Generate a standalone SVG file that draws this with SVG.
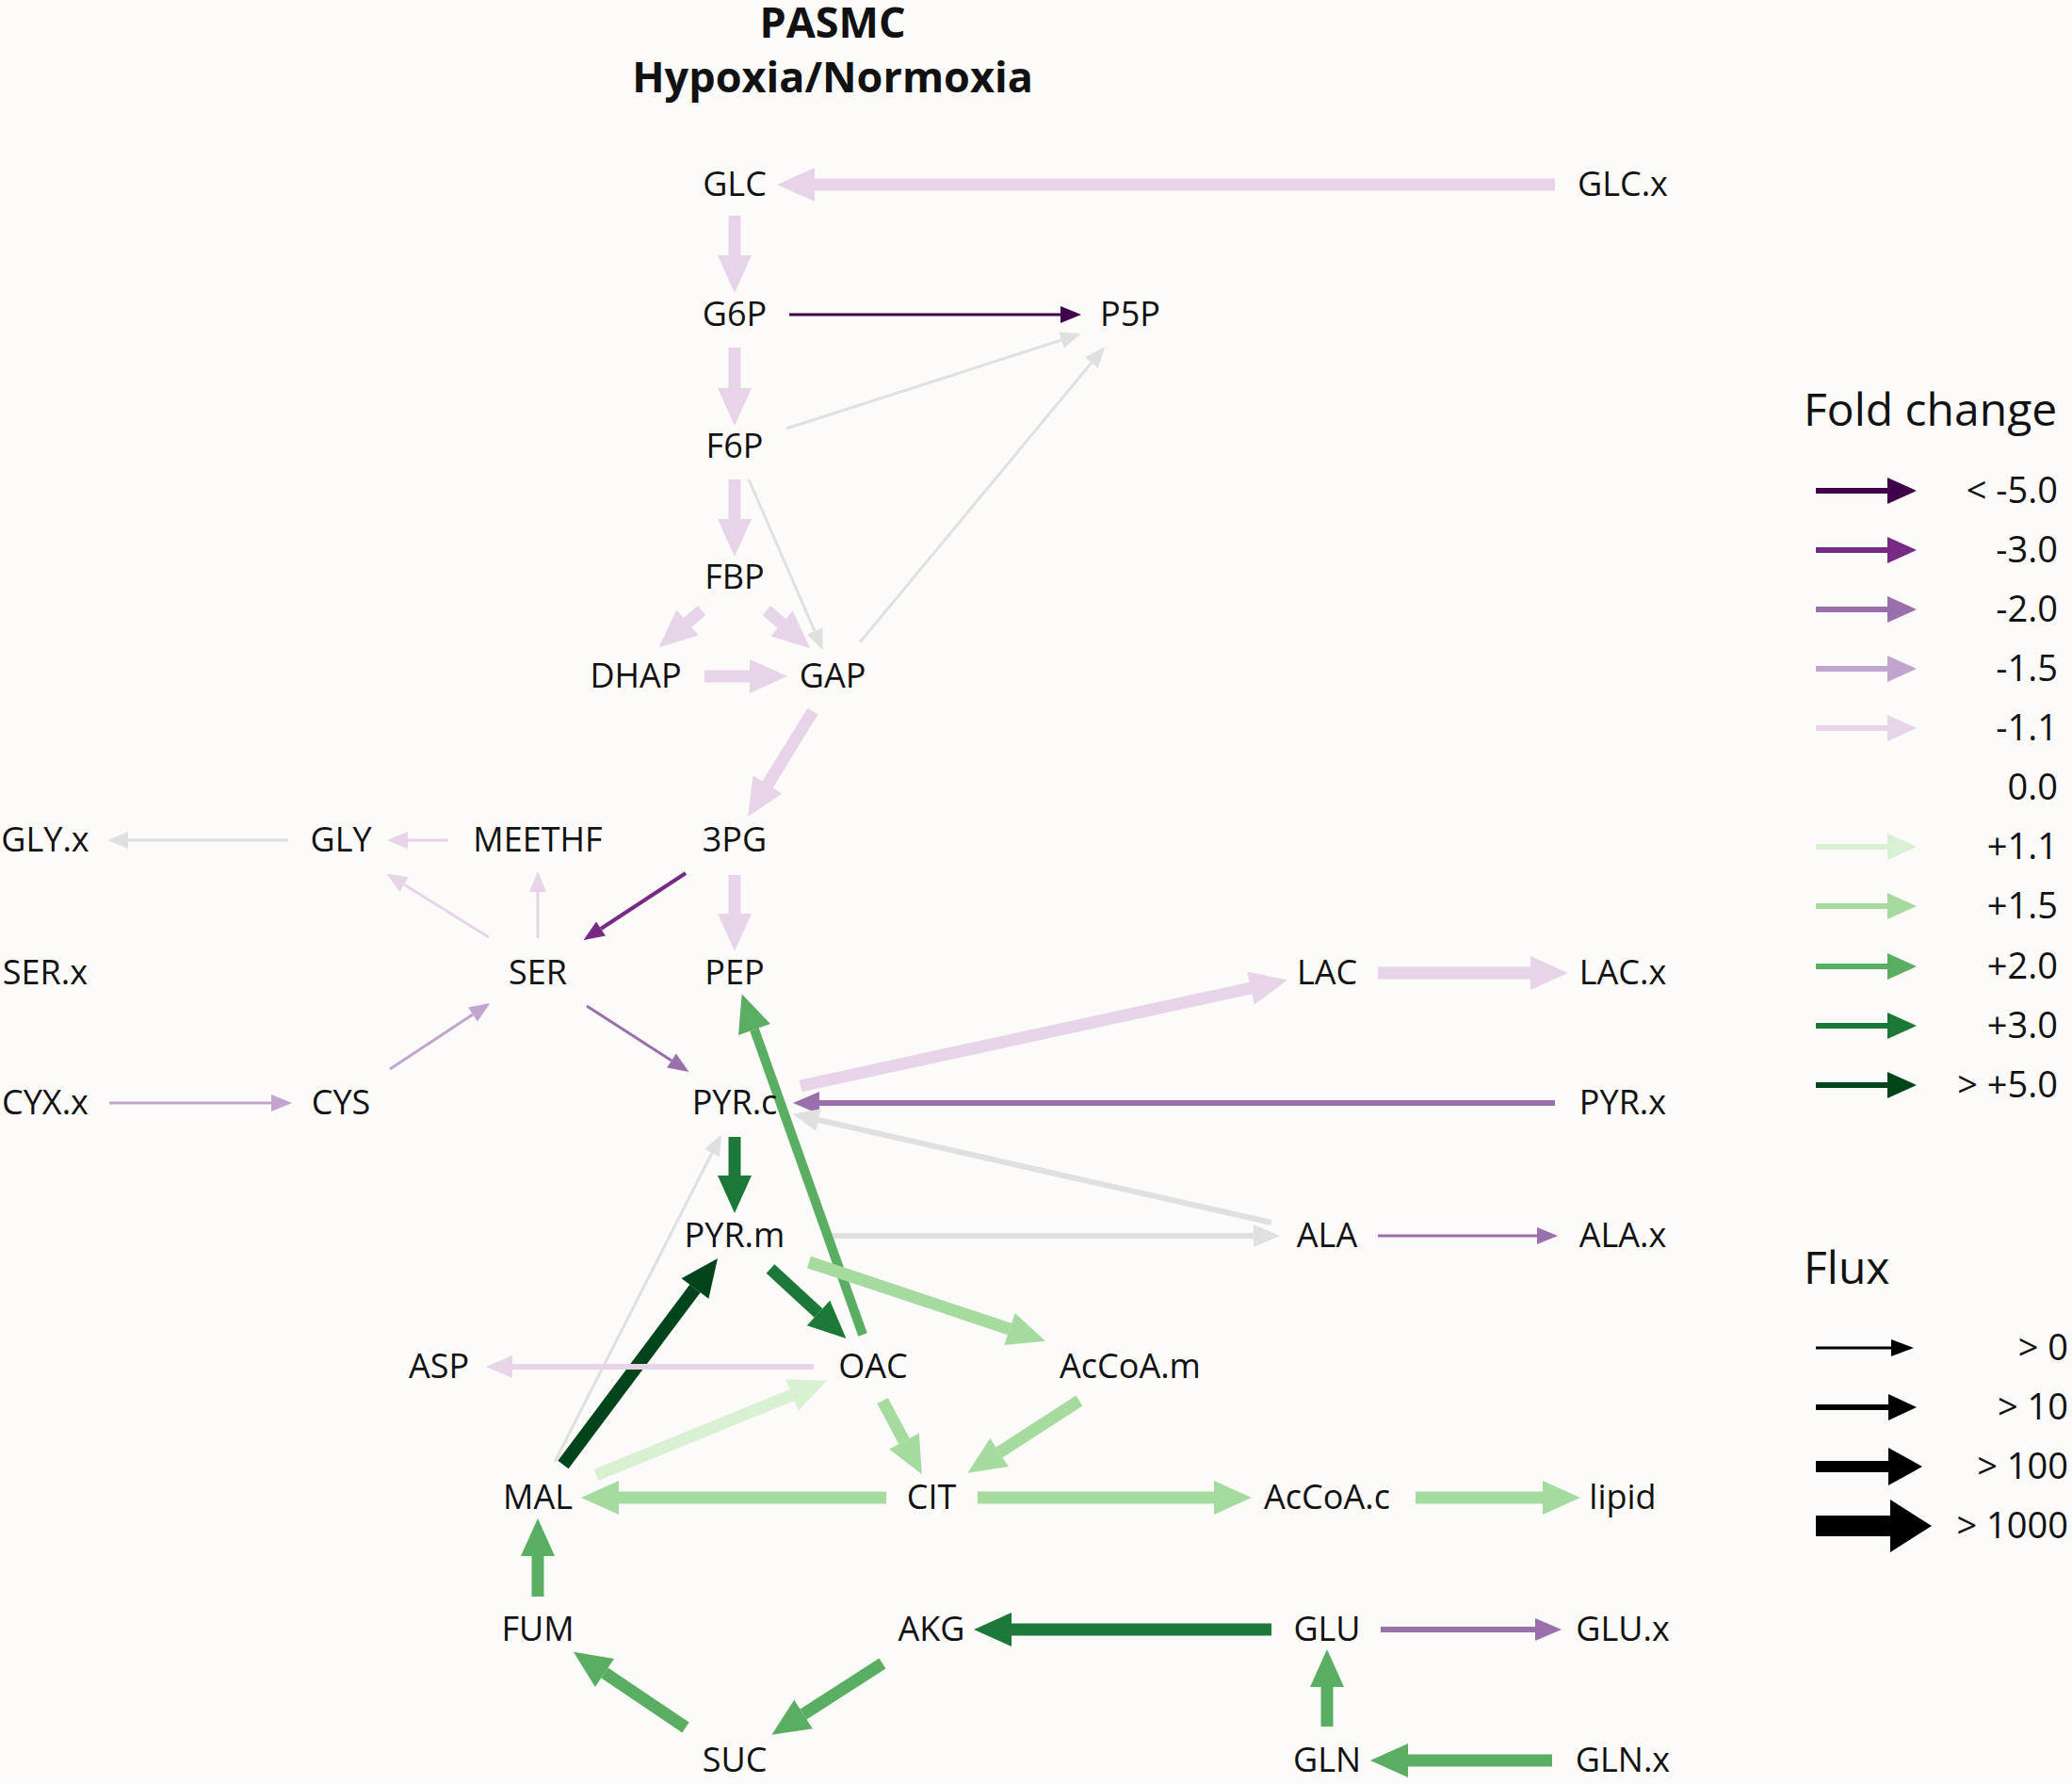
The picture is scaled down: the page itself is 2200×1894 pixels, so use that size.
<svg xmlns="http://www.w3.org/2000/svg" width="2200" height="1894" viewBox="0 0 2200 1894">
<style>
text{font-family:"Open Sans","Liberation Sans",sans-serif;font-size:36px;fill:#111;text-anchor:middle}
.ttl{font-weight:bold;font-size:45px}
.lt{font-size:38px;text-anchor:end}
.lh{font-size:48px;text-anchor:start}
line{fill:none;stroke-linecap:butt}
.t{stroke-width:3}.m{stroke-width:6}.b{stroke-width:13}
.p5{stroke:#40004b}.p3{stroke:#762a83}.p2{stroke:#9970ab}.p15{stroke:#c2a5cf}.p11{stroke:#e7d4e8}
.g0{stroke:#e0e0e0}.g11{stroke:#d9f0d3}.g15{stroke:#a6dba0}.g2{stroke:#5aae61}.g3{stroke:#1b7837}.g5{stroke:#00441b}.k{stroke:#000}
</style>
<defs>
<marker id="t-p5" markerUnits="userSpaceOnUse" markerWidth="22" markerHeight="18" refX="0" refY="9" orient="auto" overflow="visible"><path d="M0,0L22,9L0,18Z" fill="#40004b"/></marker>
<marker id="t-p3" markerUnits="userSpaceOnUse" markerWidth="22" markerHeight="18" refX="0" refY="9" orient="auto" overflow="visible"><path d="M0,0L22,9L0,18Z" fill="#762a83"/></marker>
<marker id="t-p2" markerUnits="userSpaceOnUse" markerWidth="22" markerHeight="18" refX="0" refY="9" orient="auto" overflow="visible"><path d="M0,0L22,9L0,18Z" fill="#9970ab"/></marker>
<marker id="t-p15" markerUnits="userSpaceOnUse" markerWidth="22" markerHeight="18" refX="0" refY="9" orient="auto" overflow="visible"><path d="M0,0L22,9L0,18Z" fill="#c2a5cf"/></marker>
<marker id="t-p11" markerUnits="userSpaceOnUse" markerWidth="22" markerHeight="18" refX="0" refY="9" orient="auto" overflow="visible"><path d="M0,0L22,9L0,18Z" fill="#e7d4e8"/></marker>
<marker id="t-g0" markerUnits="userSpaceOnUse" markerWidth="22" markerHeight="18" refX="0" refY="9" orient="auto" overflow="visible"><path d="M0,0L22,9L0,18Z" fill="#e0e0e0"/></marker>
<marker id="m-p2" markerUnits="userSpaceOnUse" markerWidth="28" markerHeight="24" refX="0" refY="12" orient="auto" overflow="visible"><path d="M0,0L28,12L0,24Z" fill="#9970ab"/></marker>
<marker id="m-p11" markerUnits="userSpaceOnUse" markerWidth="28" markerHeight="24" refX="0" refY="12" orient="auto" overflow="visible"><path d="M0,0L28,12L0,24Z" fill="#e7d4e8"/></marker>
<marker id="m-g0" markerUnits="userSpaceOnUse" markerWidth="28" markerHeight="24" refX="0" refY="12" orient="auto" overflow="visible"><path d="M0,0L28,12L0,24Z" fill="#e0e0e0"/></marker>
<marker id="b-p11" markerUnits="userSpaceOnUse" markerWidth="40" markerHeight="36" refX="0" refY="18" orient="auto" overflow="visible"><path d="M0,0L40,18L0,36Z" fill="#e7d4e8"/></marker>
<marker id="b-g11" markerUnits="userSpaceOnUse" markerWidth="40" markerHeight="36" refX="0" refY="18" orient="auto" overflow="visible"><path d="M0,0L40,18L0,36Z" fill="#d9f0d3"/></marker>
<marker id="b-g15" markerUnits="userSpaceOnUse" markerWidth="40" markerHeight="36" refX="0" refY="18" orient="auto" overflow="visible"><path d="M0,0L40,18L0,36Z" fill="#a6dba0"/></marker>
<marker id="b-g2" markerUnits="userSpaceOnUse" markerWidth="40" markerHeight="36" refX="0" refY="18" orient="auto" overflow="visible"><path d="M0,0L40,18L0,36Z" fill="#5aae61"/></marker>
<marker id="b-g3" markerUnits="userSpaceOnUse" markerWidth="40" markerHeight="36" refX="0" refY="18" orient="auto" overflow="visible"><path d="M0,0L40,18L0,36Z" fill="#1b7837"/></marker>
<marker id="b-g5" markerUnits="userSpaceOnUse" markerWidth="40" markerHeight="36" refX="0" refY="18" orient="auto" overflow="visible"><path d="M0,0L40,18L0,36Z" fill="#00441b"/></marker>
<marker id="l-p5" markerUnits="userSpaceOnUse" markerWidth="31" markerHeight="28" refX="0" refY="14" orient="auto" overflow="visible"><path d="M0,0L31,14L0,28Z" fill="#40004b"/></marker>
<marker id="l-p3" markerUnits="userSpaceOnUse" markerWidth="31" markerHeight="28" refX="0" refY="14" orient="auto" overflow="visible"><path d="M0,0L31,14L0,28Z" fill="#762a83"/></marker>
<marker id="l-p2" markerUnits="userSpaceOnUse" markerWidth="31" markerHeight="28" refX="0" refY="14" orient="auto" overflow="visible"><path d="M0,0L31,14L0,28Z" fill="#9970ab"/></marker>
<marker id="l-p15" markerUnits="userSpaceOnUse" markerWidth="31" markerHeight="28" refX="0" refY="14" orient="auto" overflow="visible"><path d="M0,0L31,14L0,28Z" fill="#c2a5cf"/></marker>
<marker id="l-p11" markerUnits="userSpaceOnUse" markerWidth="31" markerHeight="28" refX="0" refY="14" orient="auto" overflow="visible"><path d="M0,0L31,14L0,28Z" fill="#e7d4e8"/></marker>
<marker id="l-g11" markerUnits="userSpaceOnUse" markerWidth="31" markerHeight="28" refX="0" refY="14" orient="auto" overflow="visible"><path d="M0,0L31,14L0,28Z" fill="#d9f0d3"/></marker>
<marker id="l-g15" markerUnits="userSpaceOnUse" markerWidth="31" markerHeight="28" refX="0" refY="14" orient="auto" overflow="visible"><path d="M0,0L31,14L0,28Z" fill="#a6dba0"/></marker>
<marker id="l-g2" markerUnits="userSpaceOnUse" markerWidth="31" markerHeight="28" refX="0" refY="14" orient="auto" overflow="visible"><path d="M0,0L31,14L0,28Z" fill="#5aae61"/></marker>
<marker id="l-g3" markerUnits="userSpaceOnUse" markerWidth="31" markerHeight="28" refX="0" refY="14" orient="auto" overflow="visible"><path d="M0,0L31,14L0,28Z" fill="#1b7837"/></marker>
<marker id="l-g5" markerUnits="userSpaceOnUse" markerWidth="31" markerHeight="28" refX="0" refY="14" orient="auto" overflow="visible"><path d="M0,0L31,14L0,28Z" fill="#00441b"/></marker>
<marker id="f1" markerUnits="userSpaceOnUse" markerWidth="24" markerHeight="18" refX="0" refY="9" orient="auto" overflow="visible"><path d="M0,0L24,9L0,18Z" fill="#000"/></marker>
<marker id="f2" markerUnits="userSpaceOnUse" markerWidth="30" markerHeight="28" refX="0" refY="14" orient="auto" overflow="visible"><path d="M0,0L30,14L0,28Z" fill="#000"/></marker>
<marker id="f3" markerUnits="userSpaceOnUse" markerWidth="36" markerHeight="40" refX="0" refY="20" orient="auto" overflow="visible"><path d="M0,0L36,20L0,40Z" fill="#000"/></marker>
<marker id="f4" markerUnits="userSpaceOnUse" markerWidth="44" markerHeight="56" refX="0" refY="28" orient="auto" overflow="visible"><path d="M0,0L44,28L0,56Z" fill="#000"/></marker>
</defs>
<rect width="2200" height="1894" fill="#fcfbfa"/>
<text class="ttl" x="884" y="40">PASMC</text>
<text class="ttl" x="884" y="98">Hypoxia/Normoxia</text>
<g id="connectors">
<line class="b p11" x1="1651" y1="196" x2="865" y2="196" marker-end="url(#b-p11)"/>
<line class="b p11" x1="780" y1="229" x2="780" y2="271" marker-end="url(#b-p11)"/>
<line class="t p5" x1="838" y1="334" x2="1126" y2="334" marker-end="url(#t-p5)"/>
<line class="b p11" x1="780" y1="369" x2="780" y2="412" marker-end="url(#b-p11)"/>
<line class="t g0" x1="835" y1="455" x2="1127" y2="361" marker-end="url(#t-g0)"/>
<line class="t g0" x1="913" y1="682" x2="1159" y2="385" marker-end="url(#t-g0)"/>
<line class="b p11" x1="780" y1="509" x2="780" y2="551" marker-end="url(#b-p11)"/>
<line class="t g0" x1="795" y1="509" x2="865" y2="670" marker-end="url(#t-g0)"/>
<line class="b p11" x1="745" y1="648" x2="730" y2="661" marker-end="url(#b-p11)"/>
<line class="b p11" x1="814" y1="648" x2="830" y2="662" marker-end="url(#b-p11)"/>
<line class="b p11" x1="748" y1="718" x2="796" y2="718" marker-end="url(#b-p11)"/>
<line class="b p11" x1="863" y1="755" x2="815" y2="833" marker-end="url(#b-p11)"/>
<line class="b p11" x1="780" y1="929" x2="780" y2="970" marker-end="url(#b-p11)"/>
<line class="t p3" x1="728" y1="927" x2="638" y2="986" marker-end="url(#t-p3)" style="stroke-width:4"/>
<line class="t p11" x1="476" y1="892" x2="433" y2="892" marker-end="url(#t-p11)"/>
<line class="t g0" x1="306" y1="892" x2="136" y2="892" marker-end="url(#t-g0)"/>
<line class="t p11" x1="571" y1="996" x2="571" y2="947" marker-end="url(#t-p11)"/>
<line class="t p11" x1="519" y1="995" x2="429" y2="939" marker-end="url(#t-p11)"/>
<line class="t p2" x1="623" y1="1068" x2="713" y2="1126" marker-end="url(#t-p2)"/>
<line class="t p15" x1="414" y1="1135" x2="502" y2="1077" marker-end="url(#t-p15)"/>
<line class="t p15" x1="116" y1="1171" x2="288" y2="1171" marker-end="url(#t-p15)"/>
<line class="b p11" x1="850" y1="1153" x2="1328" y2="1049" marker-end="url(#b-p11)"/>
<line class="b p11" x1="1463" y1="1033" x2="1625" y2="1033" marker-end="url(#b-p11)"/>
<line class="m p2" x1="1651" y1="1171" x2="870" y2="1171" marker-end="url(#m-p2)"/>
<line class="m g0" x1="1350" y1="1298" x2="869" y2="1189" marker-end="url(#m-g0)"/>
<line class="m g0" x1="880" y1="1312" x2="1331" y2="1312" marker-end="url(#m-g0)"/>
<line class="t p2" x1="1463" y1="1312" x2="1632" y2="1312" marker-end="url(#t-p2)"/>
<line class="g2" style="stroke-width:10" x1="916" y1="1417" x2="801" y2="1093" marker-end="url(#b-g2)"/>
<line class="b g3" x1="780" y1="1207" x2="780" y2="1248" marker-end="url(#b-g3)"/>
<line class="b g3" x1="818" y1="1347" x2="869" y2="1394" marker-end="url(#b-g3)"/>
<line class="b g15" x1="859" y1="1340" x2="1072" y2="1411" marker-end="url(#b-g15)"/>
<line class="t g0" x1="589" y1="1552" x2="756" y2="1224" marker-end="url(#t-g0)"/>
<line class="b g5" style="stroke-width:14" x1="598" y1="1555" x2="738" y2="1368" marker-end="url(#b-g5)"/>
<line class="m p11" x1="864" y1="1451" x2="544" y2="1451" marker-end="url(#m-p11)"/>
<line class="b g11" x1="633" y1="1566" x2="841" y2="1481" marker-end="url(#b-g11)"/>
<line class="b g15" x1="937" y1="1487" x2="960" y2="1530" marker-end="url(#b-g15)"/>
<line class="b g15" x1="1146" y1="1487" x2="1061" y2="1542" marker-end="url(#b-g15)"/>
<line class="b g15" x1="941" y1="1590" x2="657" y2="1590" marker-end="url(#b-g15)"/>
<line class="b g15" x1="1038" y1="1590" x2="1289" y2="1590" marker-end="url(#b-g15)"/>
<line class="b g15" x1="1503" y1="1590" x2="1638" y2="1590" marker-end="url(#b-g15)"/>
<line class="b g2" x1="571" y1="1695" x2="571" y2="1652" marker-end="url(#b-g2)"/>
<line class="b g2" x1="728" y1="1834" x2="642" y2="1776" marker-end="url(#b-g2)"/>
<line class="b g2" x1="937" y1="1766" x2="853" y2="1820" marker-end="url(#b-g2)"/>
<line class="b g3" x1="1350" y1="1730" x2="1074" y2="1730" marker-end="url(#b-g3)"/>
<line class="m p2" x1="1466" y1="1730" x2="1630" y2="1730" marker-end="url(#m-p2)"/>
<line class="b g2" x1="1409" y1="1833" x2="1409" y2="1791" marker-end="url(#b-g2)"/>
<line class="b g2" x1="1648" y1="1869" x2="1495" y2="1869" marker-end="url(#b-g2)"/>
</g>
<g id="n-GLC"><text x="780" y="208">GLC</text></g>
<g id="n-GLCx"><text x="1723" y="208">GLC.x</text></g>
<g id="n-G6P"><text x="780" y="346">G6P</text></g>
<g id="n-P5P"><text x="1200" y="346">P5P</text></g>
<g id="n-F6P"><text x="780" y="486">F6P</text></g>
<g id="n-FBP"><text x="780" y="625">FBP</text></g>
<g id="n-DHAP"><text x="675" y="730">DHAP</text></g>
<g id="n-GAP"><text x="884" y="730">GAP</text></g>
<g id="n-3PG"><text x="780" y="904">3PG</text></g>
<g id="n-GLYx"><text x="48" y="904">GLY.x</text></g>
<g id="n-GLY"><text x="362" y="904">GLY</text></g>
<g id="n-MEETHF"><text x="571" y="904">MEETHF</text></g>
<g id="n-SERx"><text x="48" y="1045">SER.x</text></g>
<g id="n-SER"><text x="571" y="1045">SER</text></g>
<g id="n-PEP"><text x="780" y="1045">PEP</text></g>
<g id="n-LAC"><text x="1409" y="1045">LAC</text></g>
<g id="n-LACx"><text x="1723" y="1045">LAC.x</text></g>
<g id="n-CYXx"><text x="48" y="1183">CYX.x</text></g>
<g id="n-CYS"><text x="362" y="1183">CYS</text></g>
<g id="n-PYRc"><text x="780" y="1183">PYR.c</text></g>
<g id="n-PYRx"><text x="1723" y="1183">PYR.x</text></g>
<g id="n-PYRm"><text x="780" y="1324">PYR.m</text></g>
<g id="n-ALA"><text x="1409" y="1324">ALA</text></g>
<g id="n-ALAx"><text x="1723" y="1324">ALA.x</text></g>
<g id="n-ASP"><text x="466" y="1463">ASP</text></g>
<g id="n-OAC"><text x="927" y="1463">OAC</text></g>
<g id="n-AcCoAm"><text x="1200" y="1463">AcCoA.m</text></g>
<g id="n-MAL"><text x="571" y="1602">MAL</text></g>
<g id="n-CIT"><text x="989" y="1602">CIT</text></g>
<g id="n-AcCoAc"><text x="1409" y="1602">AcCoA.c</text></g>
<g id="n-lipid"><text x="1723" y="1602">lipid</text></g>
<g id="n-FUM"><text x="571" y="1742">FUM</text></g>
<g id="n-AKG"><text x="989" y="1742">AKG</text></g>
<g id="n-GLU"><text x="1409" y="1742">GLU</text></g>
<g id="n-GLUx"><text x="1723" y="1742">GLU.x</text></g>
<g id="n-SUC"><text x="780" y="1881">SUC</text></g>
<g id="n-GLN"><text x="1409" y="1881">GLN</text></g>
<g id="n-GLNx"><text x="1723" y="1881">GLN.x</text></g>
<g id="legend">
<text class="lh" x="1915" y="452">Fold change</text>
<line class="p5" style="stroke-width:6" x1="1928" y1="521" x2="2004" y2="521" marker-end="url(#l-p5)"/><text class="lt" x="2185" y="534">&lt; -5.0</text>
<line class="p3" style="stroke-width:6" x1="1928" y1="584" x2="2004" y2="584" marker-end="url(#l-p3)"/><text class="lt" x="2185" y="597">-3.0</text>
<line class="p2" style="stroke-width:6" x1="1928" y1="647" x2="2004" y2="647" marker-end="url(#l-p2)"/><text class="lt" x="2185" y="660">-2.0</text>
<line class="p15" style="stroke-width:6" x1="1928" y1="710" x2="2004" y2="710" marker-end="url(#l-p15)"/><text class="lt" x="2185" y="723">-1.5</text>
<line class="p11" style="stroke-width:6" x1="1928" y1="773" x2="2004" y2="773" marker-end="url(#l-p11)"/><text class="lt" x="2185" y="786">-1.1</text>
<text class="lt" x="2185" y="849">0.0</text>
<line class="g11" style="stroke-width:6" x1="1928" y1="899" x2="2004" y2="899" marker-end="url(#l-g11)"/><text class="lt" x="2185" y="912">+1.1</text>
<line class="g15" style="stroke-width:6" x1="1928" y1="962" x2="2004" y2="962" marker-end="url(#l-g15)"/><text class="lt" x="2185" y="975">+1.5</text>
<line class="g2" style="stroke-width:6" x1="1928" y1="1026" x2="2004" y2="1026" marker-end="url(#l-g2)"/><text class="lt" x="2185" y="1039">+2.0</text>
<line class="g3" style="stroke-width:6" x1="1928" y1="1089" x2="2004" y2="1089" marker-end="url(#l-g3)"/><text class="lt" x="2185" y="1102">+3.0</text>
<line class="g5" style="stroke-width:6" x1="1928" y1="1152" x2="2004" y2="1152" marker-end="url(#l-g5)"/><text class="lt" x="2185" y="1165">&gt; +5.0</text>
<text class="lh" x="1915" y="1363">Flux</text>
<line class="k" style="stroke-width:3" x1="1928" y1="1431" x2="2008" y2="1431" marker-end="url(#f1)"/><text class="lt" x="2196" y="1444">&gt; 0</text>
<line class="k" style="stroke-width:6" x1="1928" y1="1494" x2="2005" y2="1494" marker-end="url(#f2)"/><text class="lt" x="2196" y="1507">&gt; 10</text>
<line class="k" style="stroke-width:12" x1="1928" y1="1557" x2="2005" y2="1557" marker-end="url(#f3)"/><text class="lt" x="2196" y="1570">&gt; 100</text>
<line class="k" style="stroke-width:22" x1="1928" y1="1620" x2="2007" y2="1620" marker-end="url(#f4)"/><text class="lt" x="2196" y="1633">&gt; 1000</text>
</g>
</svg>
